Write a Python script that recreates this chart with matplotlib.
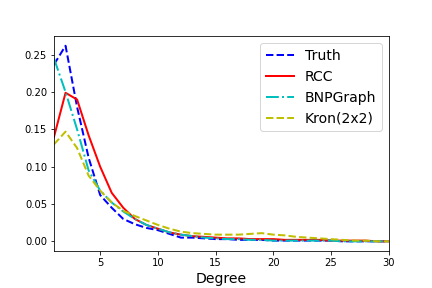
import numpy as np
import matplotlib
matplotlib.use("Agg")
from matplotlib import pyplot as plt

degree = np.arange(1, 31)

truth = [0.237, 0.262, 0.180, 0.112, 0.062, 0.045, 0.030, 0.023, 0.018, 0.015,
         0.010, 0.005, 0.005, 0.004, 0.003, 0.003, 0.002, 0.002, 0.002, 0.001,
         0.001, 0.001, 0.001, 0.001, 0.001, 0.000, 0.000, 0.000, 0.000, 0.000]
rcc = [0.140, 0.199, 0.190, 0.142, 0.100, 0.065, 0.045, 0.030, 0.022, 0.017,
       0.012, 0.009, 0.007, 0.006, 0.005, 0.004, 0.004, 0.003, 0.003, 0.003,
       0.002, 0.002, 0.002, 0.002, 0.001, 0.001, 0.001, 0.001, 0.000, 0.000]
bnpgraph = [0.245, 0.200, 0.150, 0.095, 0.068, 0.052, 0.040, 0.030, 0.022, 0.017,
            0.012, 0.009, 0.007, 0.005, 0.004, 0.003, 0.003, 0.002, 0.002, 0.001,
            0.001, 0.001, 0.001, 0.001, 0.001, 0.000, 0.000, 0.000, 0.000, 0.000]
kron = [0.130, 0.147, 0.125, 0.088, 0.068, 0.052, 0.041, 0.034, 0.028, 0.022,
        0.017, 0.013, 0.011, 0.010, 0.009, 0.009, 0.009, 0.010, 0.011, 0.009,
        0.008, 0.006, 0.005, 0.004, 0.003, 0.002, 0.001, 0.001, 0.000, 0.000]

fig = plt.figure(figsize=(6, 4), dpi=72)
plt.subplots_adjust(left=0.125, right=0.9, top=0.875, bottom=0.128)

plt.plot(degree, truth, "b--", lw=2, label="Truth")
plt.plot(degree, rcc, "r-", lw=2, label="RCC")
plt.plot(degree, bnpgraph, "c-.", lw=2, label="BNPGraph")
plt.plot(degree, kron, "y--", lw=2, label="Kron(2x2)")

plt.xlim(1, 30)
plt.xlabel("Degree", fontsize=14)
plt.legend(loc="upper right", fontsize=14)

plt.savefig("out.png")
